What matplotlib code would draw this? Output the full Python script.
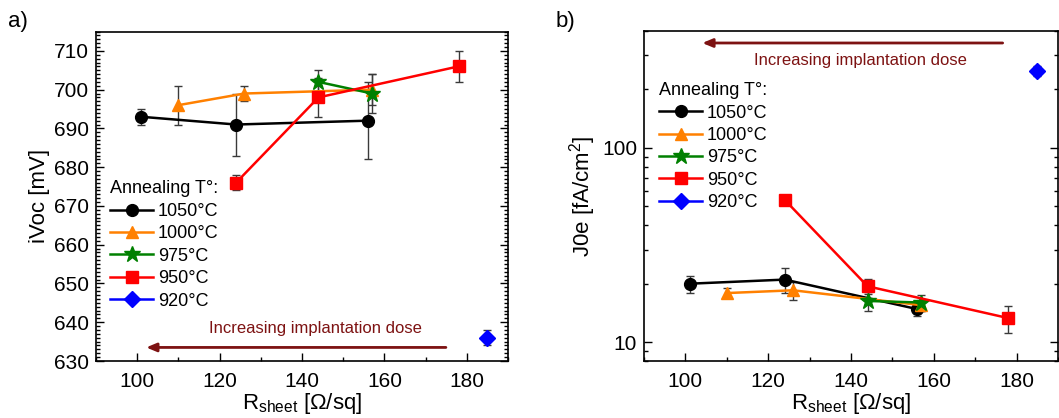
import matplotlib
matplotlib.use('Agg')
import matplotlib.pyplot as plt
from matplotlib.ticker import MultipleLocator, FixedLocator, FixedFormatter, LogLocator, NullFormatter

plt.rcParams['font.family'] = ['Liberation Sans', 'DejaVu Sans']
plt.rcParams['mathtext.fontset'] = 'custom'
plt.rcParams['mathtext.rm'] = 'Liberation Sans'
plt.rcParams['mathtext.it'] = 'Liberation Sans:italic'

# annealing series (label, colour, marker)
labels = ['1050°C', '1000°C', '975°C', '950°C', '920°C']
colors = ['black', '#ff8000', '#008000', '#ff0000', '#0000ff']
markers = ['o', '^', '*', 's', 'D']
msizes = [8.5, 9, 12, 8, 8]

# sheet resistance [Ohm/sq] of each series
rsheet = [
    [101, 124, 156],
    [110, 126, 157],
    [144, 157],
    [124, 144, 178],
    [185],
]

# implied Voc [mV]
ivoc = [
    [693, 691, 692],
    [696, 699, 700],
    [702, 699],
    [676, 698, 706],
    [636],
]
ivoc_err = [
    [2, 8, 10],
    [5, 2, 4],
    [3, 5],
    [2, 5, 4],
    [2],
]

# emitter saturation current [fA/cm2]
j0e = [
    [20, 21, 14.8],
    [17.9, 18.5, 15.5],
    [16.3, 16.0],
    [54, 19.4, 13.3],
    [250],
]
j0e_err = [
    [2, 3, 1.2],
    [1, 2, 1],
    [1.8, 1.5],
    [3, 1.8, 2.1],
    [15],
]

arrow_col = '#7d1212'
err_col = '#3a3a3a'

fig = plt.figure(figsize=(10.59, 4.18), dpi=100)
ax1 = fig.add_axes([96 / 1059, 57 / 418, 412 / 1059, 329.5 / 418])
ax2 = fig.add_axes([644 / 1059, 57 / 418, 414 / 1059, 330 / 418])


def draw(ax, ys, errs):
    for i in range(len(labels)):
        ax.errorbar(rsheet[i], ys[i], yerr=errs[i], fmt='none', ecolor=err_col,
                    elinewidth=1, capsize=3, capthick=1, zorder=2)
        ax.plot(rsheet[i], ys[i], color=colors[i], marker=markers[i], ms=msizes[i],
                lw=1.8, label=labels[i], zorder=3)
    ax.set_xlim(90, 190)
    ax.xaxis.set_major_locator(MultipleLocator(20))
    ax.xaxis.set_minor_locator(MultipleLocator(10))
    ax.tick_params(which='both', direction='in', top=False, right=True, labelsize=15)
    ax.tick_params(which='major', length=6, width=1)
    ax.tick_params(which='minor', length=3, width=1)
    ax.tick_params(axis='x', pad=8)
    ax.tick_params(axis='y', pad=5)
    for s in ax.spines.values():
        s.set_linewidth(1.2)
    ax.set_xlabel('R$_{\\mathregular{sheet}}$ [Ω/sq]', fontsize=16, labelpad=0)


# a) iVoc
draw(ax1, ivoc, ivoc_err)
ax1.set_ylim(630, 715)
ax1.yaxis.set_major_locator(MultipleLocator(10))
ax1.yaxis.set_minor_locator(MultipleLocator(1))
ax1.set_ylabel('iVoc [mV]', fontsize=16, labelpad=3)
ax1.annotate('', xy=(101.5, 633.5), xytext=(175.6, 633.5),
             arrowprops=dict(arrowstyle='-|>,head_length=0.6,head_width=0.25',
                             color=arrow_col, lw=2))
ax1.text(143.2, 638.4, 'Increasing implantation dose', color=arrow_col,
         fontsize=12, ha='center', va='center')
leg1 = ax1.legend(loc='upper left', bbox_to_anchor=(0.034, 0.548), frameon=False,
                  title='Annealing T°:', title_fontsize=13, fontsize=13,
                  alignment='left', handlelength=2.4, handletextpad=0.25,
                  borderpad=0, borderaxespad=0, labelspacing=0.3)

# b) J0e
draw(ax2, j0e, j0e_err)
ax2.set_yscale('log')
ax2.set_ylim(8, 400)
ax2.yaxis.set_major_locator(FixedLocator([10, 100]))
ax2.yaxis.set_major_formatter(FixedFormatter(['10', '100']))
ax2.yaxis.set_minor_locator(LogLocator(base=10, subs=range(2, 10)))
ax2.yaxis.set_minor_formatter(NullFormatter())
ax2.set_ylabel('J0e [fA/cm$^2$]', fontsize=16, labelpad=3)
ax2.annotate('', xy=(103.4, 347), xytext=(177.3, 347),
             arrowprops=dict(arrowstyle='-|>,head_length=0.6,head_width=0.25',
                             color=arrow_col, lw=2))
ax2.text(142.2, 282, 'Increasing implantation dose', color=arrow_col,
         fontsize=12, ha='center', va='center')
leg2 = ax2.legend(loc='upper left', bbox_to_anchor=(0.036, 0.845), frameon=False,
                  title='Annealing T°:', title_fontsize=13, fontsize=13,
                  alignment='left', handlelength=2.4, handletextpad=0.25,
                  borderpad=0, borderaxespad=0, labelspacing=0.3)

fig.text(8 / 1059, 1 - 21 / 418, 'a)', fontsize=16, va='center')
fig.text(556 / 1059, 1 - 21 / 418, 'b)', fontsize=16, va='center')

fig.savefig('out.png', dpi=100)
